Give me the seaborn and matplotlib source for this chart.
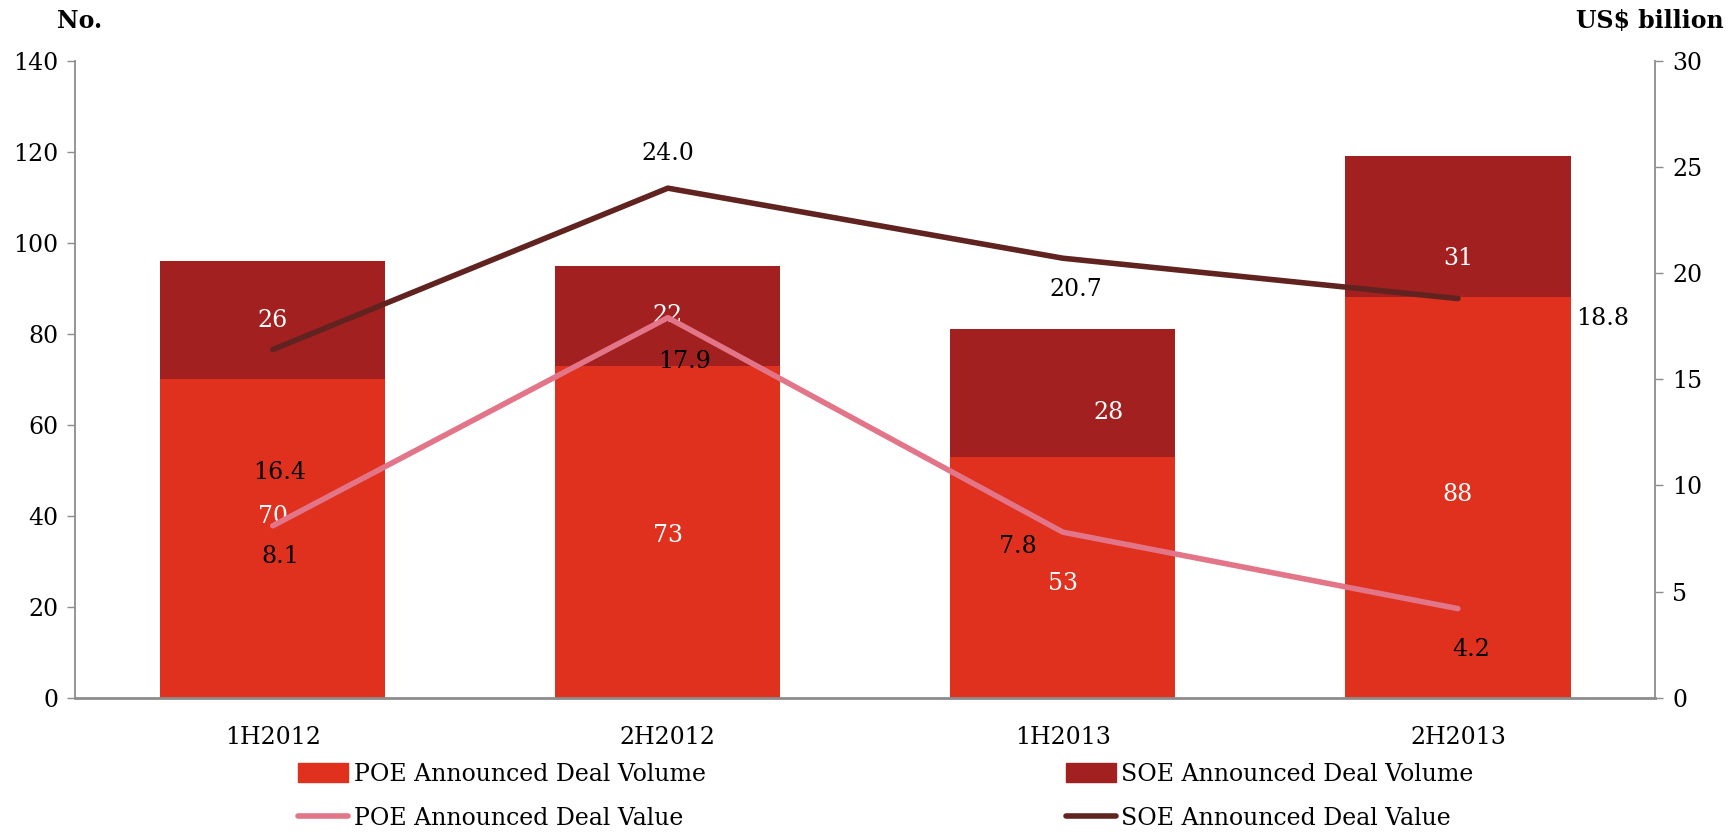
import matplotlib
matplotlib.use("Agg")
import matplotlib.pyplot as plt
from matplotlib.patches import Patch
from matplotlib.lines import Line2D
import seaborn as sns
import numpy as np
import pandas as pd

periods = ["1H2012", "2H2012", "1H2013", "2H2013"]
poe_volume = [70, 73, 53, 88]
soe_volume = [26, 22, 28, 31]
poe_value = [8.1, 17.9, 7.8, 4.2]
soe_value = [16.4, 24.0, 20.7, 18.8]

POE_RED = "#E0301E"
SOE_RED = "#A32020"
POE_PINK = "#E27588"
SOE_BROWN = "#602320"
AXIS_GREY = "#8c8c8c"

# label nudges in pixels (dx, dy), picked by eye from the original
poe_vol_nudge = [(0, 22), (0, -4), (0, -6), (0, 3)]
soe_vol_nudge = [(0, 0), (0, 0), (46, -20), (0, -32)]
poe_val_nudge = [(8, -31), (17, -44), (-45, -14), (13, -41)]
soe_val_nudge = [(7, -123), (0, 35), (13, -31), (145, -20)]

sns.set_theme(style="white")
plt.rcParams["font.family"] = ["DejaVu Serif"]
plt.rcParams["text.color"] = "black"
FS = 17

df = pd.DataFrame({
    "period": periods,
    "poe_volume": poe_volume,
    "soe_volume": soe_volume,
    "total": np.add(poe_volume, soe_volume),
    "poe_value": poe_value,
    "soe_value": soe_value,
})
df["pos"] = np.arange(len(df))

fig, ax = plt.subplots(figsize=(17.34, 8.32), dpi=100)
fig.subplots_adjust(left=0.0434, right=0.9547, top=0.927, bottom=0.1613)

sns.barplot(data=df, x="period", y="total", color=SOE_RED, saturation=1,
            width=0.57, linewidth=0, ax=ax, zorder=2)
sns.barplot(data=df, x="period", y="poe_volume", color=POE_RED, saturation=1,
            width=0.57, linewidth=0, ax=ax, zorder=2)

ax.set_xlim(-0.5, 3.5)
ax.set_ylim(0, 140)
ax.set_yticks(range(0, 141, 20))
ax.set_xlabel("")
ax.set_ylabel("")

ax2 = ax.twinx()
sns.lineplot(data=df, x="pos", y="poe_value", color=POE_PINK, linewidth=4,
             ax=ax2, solid_capstyle="round", zorder=3)
sns.lineplot(data=df, x="pos", y="soe_value", color=SOE_BROWN, linewidth=4,
             ax=ax2, solid_capstyle="round", zorder=3)
ax2.set_ylim(0, 30)
ax2.set_yticks(range(0, 31, 5))
ax2.set_xlim(-0.5, 3.5)
ax2.set_ylabel("")
ax2.set_xlabel("")

# bar labels (white)
for i, row in df.iterrows():
    dx, dy = poe_vol_nudge[i]
    ax.annotate(f"{row.poe_volume}", (row.pos, row.poe_volume / 2),
                xytext=(dx * 0.72, dy * 0.72), textcoords="offset points",
                ha="center", va="center", color="white", fontsize=FS)
    dx, dy = soe_vol_nudge[i]
    ax.annotate(f"{row.soe_volume}", (row.pos, row.poe_volume + row.soe_volume / 2),
                xytext=(dx * 0.72, dy * 0.72), textcoords="offset points",
                ha="center", va="center", color="white", fontsize=FS)

# line labels (black)
for i, row in df.iterrows():
    dx, dy = poe_val_nudge[i]
    ax2.annotate(f"{row.poe_value:.1f}", (row.pos, row.poe_value),
                 xytext=(dx * 0.72, dy * 0.72), textcoords="offset points",
                 ha="center", va="center", color="black", fontsize=FS, zorder=5)
    dx, dy = soe_val_nudge[i]
    ax2.annotate(f"{row.soe_value:.1f}", (row.pos, row.soe_value),
                 xytext=(dx * 0.72, dy * 0.72), textcoords="offset points",
                 ha="center", va="center", color="black", fontsize=FS, zorder=5)

for a in (ax, ax2):
    for s in a.spines.values():
        s.set_color(AXIS_GREY)
        s.set_linewidth(1.3)
    a.spines["top"].set_visible(False)
ax2.spines["left"].set_visible(False)
ax2.spines["bottom"].set_visible(False)
ax.spines["right"].set_visible(False)
ax.spines["bottom"].set_linewidth(2)

ax.tick_params(axis="y", left=True, length=6, width=1, color=AXIS_GREY,
               labelsize=FS, labelcolor="black", pad=6)
ax.tick_params(axis="x", bottom=False, labelsize=FS, labelcolor="black", pad=14)
ax2.tick_params(axis="y", right=True, length=6, width=1, color=AXIS_GREY,
                labelsize=FS, labelcolor="black", pad=6)

fig.text(0.033, 0.975, "No.", fontsize=FS, fontweight="bold", ha="left", va="center")
fig.text(0.994, 0.975, "US$ billion", fontsize=FS, fontweight="bold", ha="right", va="center")

handles = [
    Patch(color=POE_RED, label="POE Announced Deal Volume"),
    Line2D([], [], color=POE_PINK, lw=4, label="POE Announced Deal Value"),
    Patch(color=SOE_RED, label="SOE Announced Deal Volume"),
    Line2D([], [], color=SOE_BROWN, lw=4, label="SOE Announced Deal Value"),
]
fig.legend(handles=handles, ncol=2, loc="center", bbox_to_anchor=(0.511, 0.043),
           frameon=False, fontsize=FS, labelcolor="black", handlelength=2.1,
           handleheight=0.9, handletextpad=0.25, columnspacing=15.25,
           labelspacing=0.9)

fig.savefig("out.png", dpi=100)
